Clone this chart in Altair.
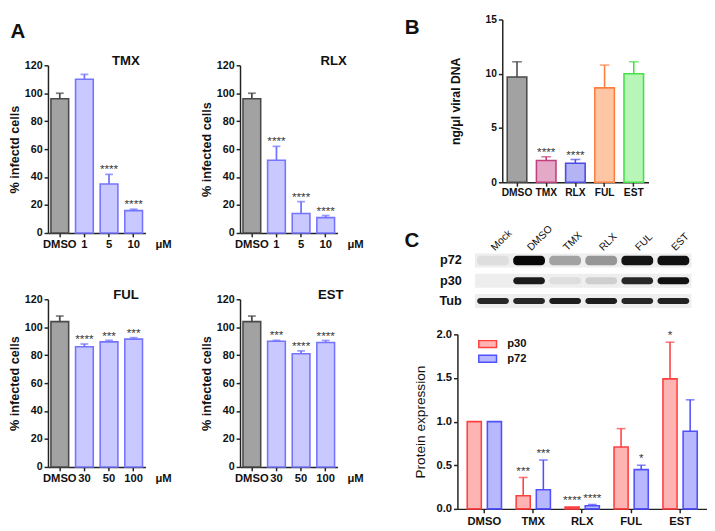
import altair as alt
import pandas as pd

FONT = "Liberation Sans"

# ---------------- Panel A data ----------------
tmx_doses = ["DMSO", "1", "5", "10"]
tmx_vals = [96, 110, 35, 16]
tmx_errs = [4, 3.5, 7, 1]
tmx_sig = ["", "", "****", "****"]

rlx_doses = ["DMSO", "1", "5", "10"]
rlx_vals = [96, 52, 14, 11]
rlx_errs = [4, 10, 8.5, 1.5]
rlx_sig = ["", "****", "****", "****"]

ful_doses = ["DMSO", "30", "50", "100"]
ful_vals = [104, 86, 89.5, 91.5]
ful_errs = [4, 2, 1, 1]
ful_sig = ["", "****", "***", "***"]

est_doses = ["DMSO", "30", "50", "100"]
est_vals = [104, 90, 81, 89]
est_errs = [4, 0.6, 2, 1.5]
est_sig = ["", "***", "****", "****"]

a_yticks = [0, 20, 40, 60, 80, 100, 120]

# ---------------- Panel B data ----------------
b_cats = ["DMSO", "TMX", "RLX", "FUL", "EST"]
b_vals = [9.7, 2.0, 1.75, 8.7, 10.0]
b_errs = [1.4, 0.35, 0.35, 2.1, 1.1]
b_sig = ["", "****", "****", "", ""]
b_yticks = [0, 5, 10, 15]

# ---------------- Panel C blot data (band intensity 0..1) ----------------
lanes = ["Mock", "DMSO", "TMX", "RLX", "FUL", "EST"]
blot_rows = ["p72", "p30", "Tub"]
p72_int = [0.06, 1.0, 0.3, 0.35, 0.95, 0.97]
p30_int = [0.0, 0.92, 0.06, 0.12, 0.85, 0.97]
tub_int = [0.85, 0.85, 0.9, 0.9, 0.85, 0.88]

# ---------------- Panel C chart data ----------------
c_cats = ["DMSO", "TMX", "RLX", "FUL", "EST"]
proteins = ["p30", "p72"]
p30_vals = [1.0, 0.15, 0.02, 0.71, 1.49]
p30_errs = [0, 0.21, 0, 0.21, 0.42]
p30_sig = ["", "***", "****", "", "*"]
p72_vals = [1.0, 0.22, 0.035, 0.45, 0.89]
p72_errs = [0, 0.34, 0.015, 0.05, 0.36]
p72_sig = ["", "***", "****", "*", ""]
c_yticks = [0, 0.5, 1.0, 1.5, 2.0]

# ---------------- palettes ----------------
A_GROUPS = ["ctrl", "drug"]
A_FILL = ["#a2a2a2", "#c9c9ff"]
A_STROKE = ["#4a4a4a", "#7474ff"]
B_FILL = ["#a2a2a2", "#e3a9c6", "#b4b4f4", "#ffc6a6", "#b8f6b8"]
B_STROKE = ["#4a4a4a", "#c2407f", "#4a4ae8", "#ff7f3f", "#44e044"]
C_FILL = ["#ffb4b4", "#b8b8ff"]
C_STROKE = ["#ff4040", "#5050ff"]

AX = dict(grid=False, domainColor="#222222", tickColor="#222222", domainWidth=1.5,
          tickWidth=1.5, labelColor="#111111", titleColor="#111111",
          labelFontWeight="bold", titleFontWeight="bold", labelOverlap=False)


def indep(ch):
    return ch.resolve_scale(fill="independent", stroke="independent", color="independent")


def panel_a(name, doses, vals, errs, sig, ytitle, title_dx):
    df = pd.DataFrame({
        "dose": doses,
        "val": vals,
        "top": [v + e for v, e in zip(vals, errs)],
        "sig": sig,
        "grp": ["ctrl"] + ["drug"] * (len(doses) - 1),
    })
    xs = alt.Scale(paddingInner=0.28, paddingOuter=0.12)
    ys = alt.Scale(domain=[0, 120], nice=False)
    xax = alt.Axis(title="μM", titleX=118, titleY=12, titleAlign="center",
                   titleBaseline="middle", titleFontSize=11.5, labelAngle=0,
                   labelFontSize=11.5, tickSize=4, labelPadding=2, **AX)
    yax = alt.Axis(values=a_yticks, title=ytitle, titleFontSize=13, labelFontSize=11,
                   tickSize=4, labelPadding=2, titlePadding=3, **AX)
    X = alt.X("dose:N", sort=doses, scale=xs, axis=xax)
    col_stroke = alt.Scale(domain=A_GROUPS, range=A_STROKE)
    base = alt.Chart(df)
    bars = base.mark_bar(strokeWidth=1.6).encode(
        x=X, y=alt.Y("val:Q", scale=ys, axis=yax),
        fill=alt.Fill("grp:N", scale=alt.Scale(domain=A_GROUPS, range=A_FILL), legend=None),
        stroke=alt.Stroke("grp:N", scale=col_stroke, legend=None))
    err = base.transform_filter("datum.top > datum.val")
    rule = err.mark_rule(strokeWidth=1.8).encode(
        x=X, y=alt.Y("val:Q", scale=ys, axis=yax), y2="top:Q",
        color=alt.Color("grp:N", scale=col_stroke, legend=None))
    cap = err.mark_tick(thickness=1.8, size=8).encode(
        x=X, y=alt.Y("top:Q", scale=ys, axis=yax),
        color=alt.Color("grp:N", scale=col_stroke, legend=None))
    stars = base.mark_text(fontSize=12, baseline="alphabetic", dy=-1, color="#333333",
                           fontWeight="normal").encode(
        x=X, y=alt.Y("top:Q", scale=ys, axis=yax), text="sig:N")
    return alt.layer(bars, rule, cap, stars).properties(
        width=100, height=172,
        title=alt.Title(name, fontSize=13.5, dx=title_dx, offset=-8))


tmx = panel_a("TMX", tmx_doses, tmx_vals, tmx_errs, tmx_sig, "% infectd cells", 30)
rlx = panel_a("RLX", rlx_doses, rlx_vals, rlx_errs, rlx_sig, "% infected cells", 46)
ful = panel_a("FUL", ful_doses, ful_vals, ful_errs, ful_sig, "% infected cells", 30)
est = panel_a("EST", est_doses, est_vals, est_errs, est_sig, "% infected cells", 43)

left = indep(alt.vconcat(
    indep(alt.hconcat(tmx, rlx, spacing=29)),
    indep(alt.hconcat(ful, est, spacing=29)),
    spacing=38,
)).properties(title=alt.Title("A", anchor="start", fontSize=21, offset=13, dx=2))

# ---------------- Panel B ----------------
b_df = pd.DataFrame({
    "cat": b_cats, "val": b_vals,
    "top": [v + e for v, e in zip(b_vals, b_errs)],
    "sig": b_sig,
})
bx = alt.Scale(range=[46, 196], paddingInner=0.33, paddingOuter=0.17)
by = alt.Scale(domain=[0, 15], range=[120, -47], nice=False)
b_xax = alt.Axis(title=None, labelAngle=0, labelFontSize=10.5, tickSize=4, labelPadding=2, **AX)
b_yax = alt.Axis(values=b_yticks, offset=-46, title="ng/μl viral DNA", titleFontSize=12.5,
                 labelFontSize=10.5, tickSize=4, labelPadding=2, titlePadding=23, **AX)
b_strk = alt.Scale(domain=b_cats, range=B_STROKE)
BX = alt.X("cat:N", sort=b_cats, scale=bx, axis=b_xax)
b_base = alt.Chart(b_df)
b_bars = b_base.mark_bar(strokeWidth=1.6).encode(
    x=BX, y=alt.Y("val:Q", scale=by, axis=b_yax),
    fill=alt.Fill("cat:N", scale=alt.Scale(domain=b_cats, range=B_FILL), legend=None),
    stroke=alt.Stroke("cat:N", scale=b_strk, legend=None),
)
b_rule = b_base.mark_rule(strokeWidth=1.6).encode(
    x=BX, y=alt.Y("val:Q", scale=by, axis=b_yax), y2="top:Q",
    color=alt.Color("cat:N", scale=b_strk, legend=None))
b_cap = b_base.mark_tick(thickness=1.6, size=10).encode(
    x=BX, y=alt.Y("top:Q", scale=by, axis=b_yax),
    color=alt.Color("cat:N", scale=b_strk, legend=None))
b_star = b_base.mark_text(fontSize=12, baseline="alphabetic", dy=-1, color="#333333",
                          fontWeight="normal").encode(
    x=BX, y=alt.Y("top:Q", scale=by, axis=b_yax), text="sig:N")
b_chart = alt.layer(b_bars, b_rule, b_cap, b_star).properties(
    width=196, height=120,
    title=alt.Title("B", orient="left", anchor="end", angle=0, align="right",
                    baseline="top", fontSize=21, offset=16, dy=3))

# ---------------- Panel C blot ----------------
blot_df = pd.DataFrame([
    {"lane": l, "row": r, "int": v}
    for r, vals in zip(blot_rows, [p72_int, p30_int, tub_int])
    for l, v in zip(lanes, vals)
])
lx = alt.Scale(range=[18, 240], paddingInner=0, paddingOuter=0)
ly = alt.Scale(paddingInner=0.3, paddingOuter=0)
l_xax = alt.Axis(orient="top", title=None, labelAngle=315, labelAlign="left",
                 labelBaseline="middle", ticks=False, domain=False, labelPadding=5,
                 labelFontSize=10.5, labelColor="#111111", labelFontWeight="normal",
                 grid=False, labelOverlap=False)
l_yax = alt.Axis(orient="left", offset=-18, ticks=False, domain=False, labelPadding=14,
                 labelFontSize=13, labelFontWeight="bold", labelColor="#111111", grid=False,
                 labelOverlap=False, title=None)
LX = alt.X("lane:N", sort=lanes, scale=lx, axis=l_xax)
LY = alt.Y("row:N", sort=blot_rows, scale=ly, axis=l_yax)
blot_bg = alt.Chart(blot_df).mark_rect(color="#eeeeee").encode(x=LX, y=LY)
band_layers = []
for r, h in zip(blot_rows, [0.68, 0.5, 0.42]):
    band_layers.append(
        alt.Chart(blot_df).transform_filter(f"datum.row === '{r}'").mark_rect(
            width={"band": 0.88}, height={"band": h}, cornerRadius=4).encode(
            x=LX, y=LY,
            color=alt.Color("int:Q", scale=alt.Scale(domain=[0, 1], range=["#eeeeee", "#080808"]),
                            legend=None)))
blot = alt.layer(blot_bg, *band_layers).properties(
    width=240, height=56,
    title=alt.Title("C", orient="left", anchor="end", angle=0, align="right",
                    baseline="top", fontSize=21, offset=5, dy=7))

# ---------------- Panel C chart ----------------
c_rows = []
for prot, vals, errs, sig in [("p30", p30_vals, p30_errs, p30_sig), ("p72", p72_vals, p72_errs, p72_sig)]:
    for c, v, e, s in zip(c_cats, vals, errs, sig):
        c_rows.append({"cat": c, "prot": prot, "val": v, "top": v + e, "sig": s})
c_df = pd.DataFrame(c_rows)
cx = alt.Scale(paddingInner=0.3, paddingOuter=0.2)
cxo = alt.Scale(paddingInner=0.3, paddingOuter=0)
cy = alt.Scale(domain=[0, 2], nice=False)
c_strk = alt.Scale(domain=proteins, range=C_STROKE)
c_xax = alt.Axis(title=None, labelAngle=0, labelFontSize=11.5, tickSize=4, labelPadding=3, **AX)
c_yax = alt.Axis(values=c_yticks, format=".1f", title="Protein expression", titleFontSize=14,
                 labelFontSize=11.5, tickSize=4, labelPadding=2, titlePadding=9,
                 **{**AX, "titleFontWeight": "normal"})
leg = dict(orient="none", legendX=23.5, legendY=2.5, title=None,
           symbolType="M-1.4,-0.55L1.4,-0.55L1.4,0.55L-1.4,0.55Z", symbolSize=169,
           symbolStrokeWidth=1.5, labelFontSize=11.5, labelFontWeight="bold",
           labelColor="#111111", labelOffset=12.5, rowPadding=-2, padding=0)
CX = alt.X("cat:N", sort=c_cats, scale=cx, axis=c_xax)
c_xo = alt.XOffset("prot:N", sort=proteins, scale=cxo)
c_base = alt.Chart(c_df)
c_bars = c_base.mark_bar(strokeWidth=1.6).encode(
    x=CX, xOffset=c_xo, y=alt.Y("val:Q", scale=cy, axis=c_yax),
    fill=alt.Fill("prot:N", scale=alt.Scale(domain=proteins, range=C_FILL), legend=alt.Legend(**leg)),
    stroke=alt.Stroke("prot:N", scale=c_strk, legend=alt.Legend(**leg)),
)
c_err = c_base.transform_filter("datum.top > datum.val")
c_rule = c_err.mark_rule(strokeWidth=1.6).encode(
    x=CX, xOffset=c_xo,
    y=alt.Y("val:Q", scale=cy, axis=c_yax), y2="top:Q",
    color=alt.Color("prot:N", scale=c_strk, legend=None))
c_cap = c_err.mark_tick(thickness=1.6, size=9).encode(
    x=CX, xOffset=c_xo,
    y=alt.Y("top:Q", scale=cy, axis=c_yax),
    color=alt.Color("prot:N", scale=c_strk, legend=None))
c_star = c_base.mark_text(fontSize=12, baseline="alphabetic", dy=-3, color="#333333",
                          fontWeight="normal").encode(
    x=CX, xOffset=c_xo,
    y=alt.Y("top:Q", scale=cy, axis=c_yax), text="sig:N")
c_chart = alt.layer(c_bars, c_rule, c_cap, c_star).properties(width=256, height=179)

right = indep(alt.vconcat(b_chart, indep(alt.vconcat(blot, c_chart, spacing=21)), spacing=-5))

chart = indep(alt.hconcat(left, right, spacing=41)).properties(
    padding={"left": 0, "top": 0, "right": 0, "bottom": 0}
).configure(font=FONT, background="white").configure_view(stroke=None).configure_title(
    font=FONT, fontWeight="bold", color="#111111").configure_axis(labelOverlap=False)

chart.save("out.html", embed_options={"renderer": "svg", "actions": False})
